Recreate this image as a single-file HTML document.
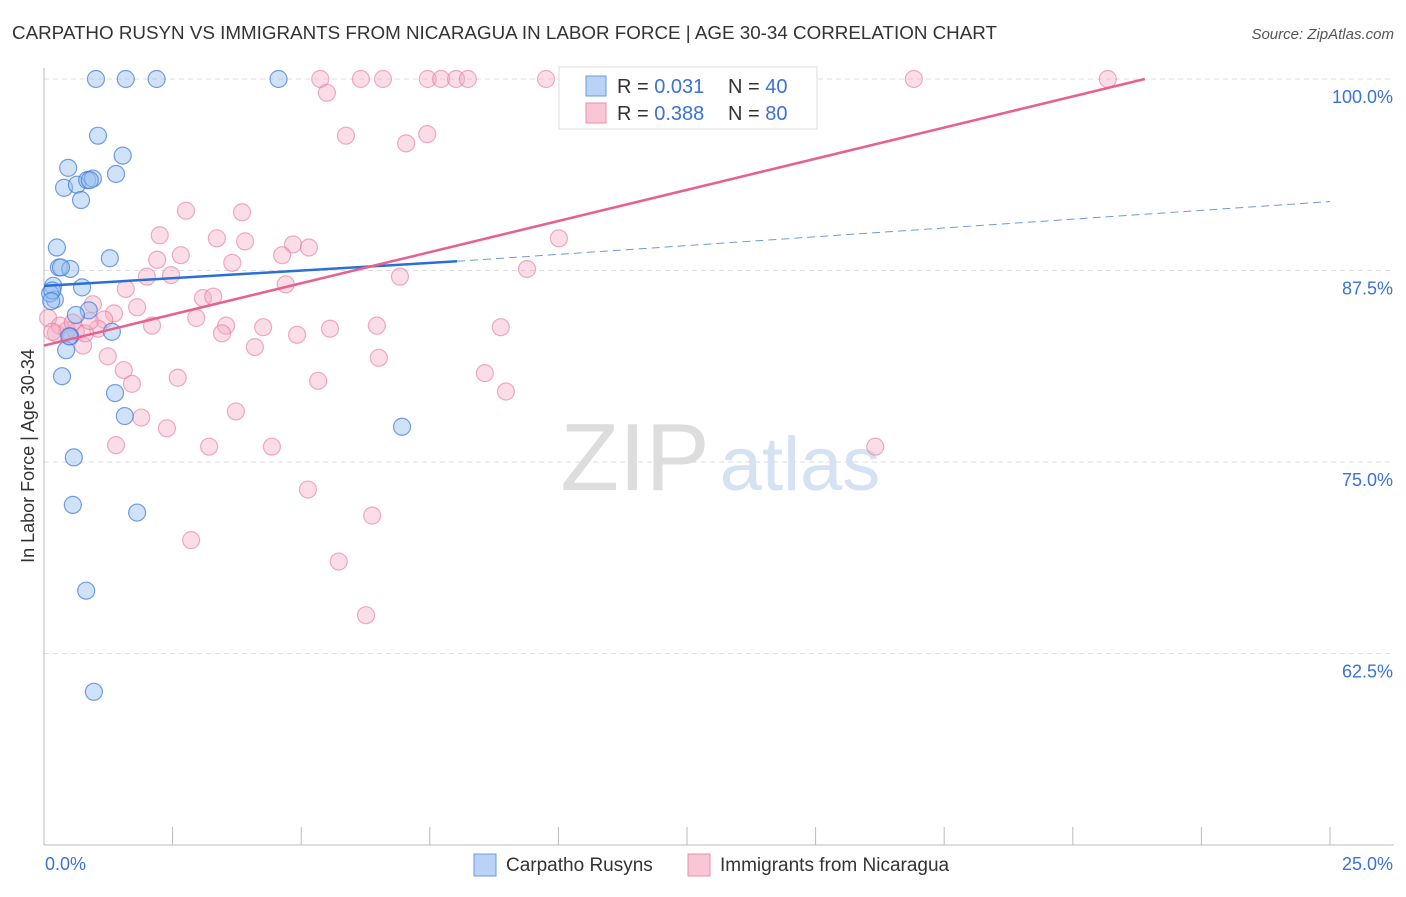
<!DOCTYPE html>
<html><head><meta charset="utf-8"><style>
body{margin:0;background:#fff;font-family:"Liberation Sans",sans-serif;}
svg text{font-family:"Liberation Sans",sans-serif;}
</style></head><body>
<svg id="chart" width="1406" height="892" xmlns="http://www.w3.org/2000/svg">
<text x="12" y="39" font-size="18.5" fill="#333" textLength="985" lengthAdjust="spacingAndGlyphs">CARPATHO RUSYN VS IMMIGRANTS FROM NICARAGUA IN LABOR FORCE | AGE 30-34 CORRELATION CHART</text>
<text x="1394" y="39" font-size="15" fill="#555" text-anchor="end" font-style="italic">Source: ZipAtlas.com</text>
<g>
<text x="635" y="490" font-size="96" fill="#ddd" text-anchor="middle" font-family="Liberation Serif">ZIP</text>
<text x="800" y="490" font-size="76" fill="#d4e2f4" text-anchor="middle">atlas</text>
</g>
<g id="grid"></g><g id="axes"></g><g id="marks"></g>
<text transform="translate(34,456) rotate(-90)" font-size="18" fill="#333" text-anchor="middle">In Labor Force | Age 30-34</text>
<g>
<rect x="559" y="67" width="258" height="62" fill="#fff" stroke="#ddd"/>
<rect x="586" y="76" width="20" height="20" fill="#b9d2f5" stroke="#6b9be0"/>
<text x="617" y="93" font-size="20" fill="#333">R = <tspan fill="#3a72d8">0.031</tspan></text>
<text x="728" y="93" font-size="20" fill="#333">N = <tspan fill="#3a72d8">40</tspan></text>
<rect x="586" y="103" width="20" height="20" fill="#f9c6d5" stroke="#ec8fab"/>
<text x="617" y="120" font-size="20" fill="#333">R = <tspan fill="#3a72d8">0.388</tspan></text>
<text x="728" y="120" font-size="20" fill="#333">N = <tspan fill="#3a72d8">80</tspan></text>
</g>
<g>
<rect x="474" y="854" width="22" height="22" fill="#b9d2f5" stroke="#6b9be0"/>
<text x="506" y="871" font-size="19" fill="#333">Carpatho Rusyns</text>
<rect x="688" y="854" width="22" height="22" fill="#f9c6d5" stroke="#ec8fab"/>
<text x="720" y="871" font-size="19" fill="#333">Immigrants from Nicaragua</text>
</g>
</svg>
<script>
const xTicks=[0,2.5,5,7.5,10,12.5,15,17.5,20,22.5,25];
const yTicks=[100,87.5,75,62.5];
const yTickLabels=["100.0%","87.5%","75.0%","62.5%"];
const xLabels=["0.0%","25.0%"];
const blueX=[1.01,1.59,2.19,4.56,1.05,1.53,0.47,1.40,0.39,0.64,0.84,0.95,0.72,0.25,1.28,0.29,0.51,0.18,0.74,0.21,0.12,0.87,0.62,1.32,0.51,0.43,0.35,1.38,1.57,6.96,0.58,0.56,1.81,0.82,0.97,0.16,0.33,0.89,0.14,0.49];
const blueY=[100,100,100,100,96.3,95.0,94.2,93.8,92.9,93.1,93.4,93.5,92.1,89.0,88.3,87.7,87.6,86.5,86.4,85.6,86.0,84.9,84.6,83.5,83.2,82.3,80.6,79.5,78.0,77.3,75.3,72.2,71.7,66.6,60.0,86.2,87.7,93.4,85.5,83.2];
const pinkX=[5.37,6.16,6.59,7.46,7.72,8.01,8.24,9.76,16.91,20.68,5.50,10.42,5.87,7.04,7.45,2.76,3.85,2.25,3.36,3.91,10.01,2.66,2.20,4.84,5.15,4.63,3.66,2.00,2.47,6.92,9.39,1.59,4.70,3.09,3.29,0.95,1.81,1.36,1.17,2.96,2.10,3.54,4.26,5.56,6.47,8.88,4.92,3.46,0.45,1.05,0.62,0.23,0.76,4.10,6.51,1.24,1.55,2.60,5.33,8.57,1.71,8.98,1.89,3.73,2.39,1.40,3.21,4.43,16.16,5.13,6.38,2.86,5.73,6.26,0.08,0.31,0.16,0.56,0.80,0.89];
const pinkY=[100,100,100,100,100,100,100,100,100,100,99.1,97.6,96.3,95.8,96.4,91.4,91.3,89.8,89.6,89.4,89.6,88.5,88.2,89.2,89.0,88.5,88.0,87.1,87.2,87.1,87.6,86.3,86.6,85.7,85.8,85.3,85.1,84.7,84.3,84.4,83.9,83.9,83.8,83.7,83.9,83.8,83.3,83.4,83.6,83.7,83.5,83.4,82.6,82.5,81.8,81.9,81.0,80.5,80.3,80.8,80.1,79.6,77.9,78.3,77.2,76.1,76.0,76.0,76.0,73.2,71.5,69.9,68.5,65.0,84.4,83.9,83.5,84.1,83.4,84.2];
const blueTrend=[[0,86.5],[8.03,88.1]];const blueDash=[[8.03,88.1],[25,92.0]];
const pinkTrend=[[0,82.6],[21.4,100]];
const L=44,R=1330,T=79,B=845;
const X=v=>L+(v/25)*(R-L);
const Y=v=>T+(100-v)*(B-T)/50;
const NS="http://www.w3.org/2000/svg";
function mk(tag,attrs,parent){const e=document.createElementNS(NS,tag);for(const k in attrs)e.setAttribute(k,attrs[k]);document.getElementById(parent).appendChild(e);return e;}
yTicks.forEach((t,i)=>{
 const g=mk('line',{x1:L,x2:1394,y1:Y(t),y2:Y(t),stroke:'#ddd','stroke-dasharray':'5,4'},'grid');
 
 
 const tx=mk('text',{x:1393,y:Y(t)+24,'font-size':18,fill:'#3a72d8','text-anchor':'end'},'axes');
 tx.textContent=yTickLabels[i];
 
 
});
const ax=mk('line',{x1:L,x2:1394,y1:B,y2:B,stroke:'#bbb'},'axes');


const ay=mk('line',{x1:L,x2:L,y1:68,y2:B,stroke:'#bbb'},'axes');


xTicks.forEach(t=>{const l=mk('line',{x1:X(t),x2:X(t),y1:B,y2:B-18,stroke:'#bbb'},'axes');
 
 });
const xl0=mk('text',{x:45,y:870,'font-size':18,fill:'#3a72d8'},'axes');xl0.textContent=xLabels[0];


const xl1=mk('text',{x:1393,y:870,'font-size':18,fill:'#3a72d8','text-anchor':'end'},'axes');xl1.textContent=xLabels[1];


pinkX.forEach((v,i)=>{const c=mk('circle',{cx:X(v),cy:Y(pinkY[i]),r:8.5,fill:'rgba(246,170,195,0.4)',stroke:'rgba(232,120,155,0.6)','stroke-width':1.2},'marks');
 
 });
blueX.forEach((v,i)=>{const c=mk('circle',{cx:X(v),cy:Y(blueY[i]),r:8.5,fill:'rgba(150,190,240,0.45)',stroke:'rgba(60,120,220,0.7)','stroke-width':1.2},'marks');
 
 });
const bl=mk('line',{x1:X(blueTrend[0][0]),y1:Y(blueTrend[0][1]),x2:X(blueTrend[1][0]),y2:Y(blueTrend[1][1]),stroke:'#2a6fd6','stroke-width':2.5},'marks');


const bd=mk('line',{x1:X(blueDash[0][0]),y1:Y(blueDash[0][1]),x2:X(blueDash[1][0]),y2:Y(blueDash[1][1]),stroke:'#6b9be0','stroke-width':1,'stroke-dasharray':'8,5'},'marks');


const pl=mk('line',{x1:X(pinkTrend[0][0]),y1:Y(pinkTrend[0][1]),x2:X(pinkTrend[1][0]),y2:Y(pinkTrend[1][1]),stroke:'#e8608c','stroke-width':2.5},'marks');


</script>
</body></html>
